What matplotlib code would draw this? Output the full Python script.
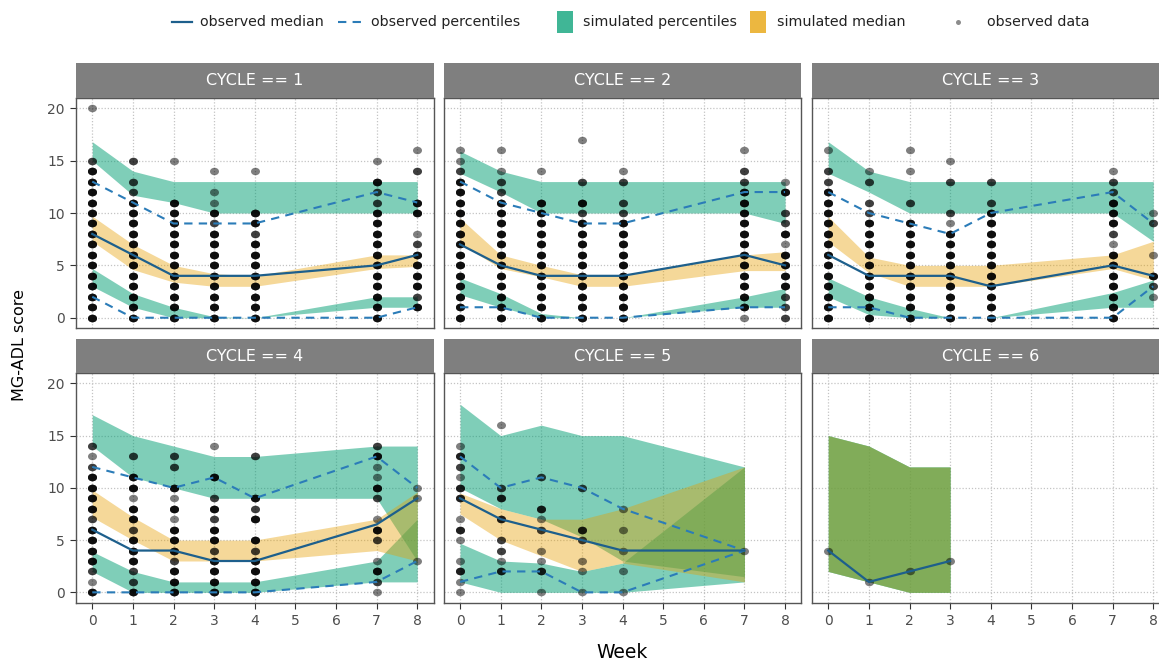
import numpy as np
import matplotlib
matplotlib.use("Agg")
import matplotlib.pyplot as plt
from matplotlib.patches import Rectangle
from matplotlib.lines import Line2D
from matplotlib.path import Path
import matplotlib.transforms as mtransforms

plt.rcParams['font.family'] = ['DejaVu Sans']

# ---------------------------------------------------------------- data
score_levels = [0, 1, 2, 3, 4, 5, 6, 7, 8, 9, 10, 11, 12, 13, 14, 15, 16, 17, 18, 19, 20]
week_ticks = [0, 1, 2, 3, 4, 5, 6, 7, 8]
score_ticks = [0, 5, 10, 15, 20]

weeks_c1 = [0, 1, 2, 3, 4, 7, 8]
weeks_c2 = [0, 1, 2, 3, 4, 7, 8]
weeks_c3 = [0, 1, 2, 3, 4, 7, 8]
weeks_c4 = [0, 1, 2, 3, 4, 7, 8]
weeks_c5 = [0, 1, 2, 3, 4, 7]
weeks_c6 = [0, 1, 2, 3]

# observed median and percentiles
obs_med_c1 = [8, 6, 4, 4, 4, 5, 6]
obs_hi_c1 = [13, 11, 9, 9, 9, 12, 11]
obs_lo_c1 = [2, 0, 0, 0, 0, 0, 1]
obs_med_c2 = [7, 5, 4, 4, 4, 6, 5]
obs_hi_c2 = [13, 11, 10, 9, 9, 12, 12]
obs_lo_c2 = [1, 1, 0, 0, 0, 1, 1]
obs_med_c3 = [6, 4, 4, 4, 3, 5, 4]
obs_hi_c3 = [12, 10, 9, 8, 10, 12, 9]
obs_lo_c3 = [1, 1, 0, 0, 0, 0, 3]
obs_med_c4 = [6, 4, 4, 3, 3, 6.5, 9]
obs_hi_c4 = [12, 11, 10, 11, 9, 13, 10]
obs_lo_c4 = [0, 0, 0, 0, 0, 1, 3]
obs_med_c5 = [9, 7, 6, 5, 4, 4]
obs_hi_c5 = [13, 10, 11, 10, 8, 4]
obs_lo_c5 = [1, 2, 2, 0, 0, 4]
obs_med_c6 = [4, 1, 2, 3]

# simulated intervals: (lower edge, upper edge) for the upper percentile,
# the median and the lower percentile
sim_up_c1 = ([15, 11.7, 11, 10, 10, 10, 10], [16.8, 14, 13, 13, 13, 13, 13])
sim_md_c1 = ([7.3, 4.6, 3.4, 3, 3, 4.7, 4.9], [9.7, 7, 5, 4.2, 4, 6, 6])
sim_lw_c1 = ([3, 1, 0, 0, 0, 1, 1], [4.7, 2.3, 1, 0.1, 0, 2, 2])

sim_up_c2 = ([13.8, 12, 10, 10, 10, 10, 9], [15.9, 14, 13, 13, 13, 13, 13])
sim_md_c2 = ([7.1, 4.7, 3.9, 3, 3, 4.5, 4.5], [9.5, 6, 5, 4.1, 4, 6, 6.3])
sim_lw_c2 = ([2.2, 1, 0, 0, 0, 1, 1], [3.8, 2.3, 0.4, 0, 0, 2, 2.8])

sim_up_c3 = ([13.8, 12, 10, 10, 10, 10, 7.3], [16.8, 14, 13, 13, 13, 13, 13])
sim_md_c3 = ([7.25, 4.3, 3, 3, 3, 4.7, 3.6], [9.65, 5.8, 5, 5, 5, 6, 7.3])
sim_lw_c3 = ([2, 0.3, 0, 0, 0, 1, 1], [3.8, 2, 0.9, 0, 0, 2.4, 3.6])

sim_up_c4 = ([14, 11, 10, 9, 9, 9, 3], [17, 15, 14, 13, 13, 14, 14])
sim_md_c4 = ([7.2, 5, 3, 3, 3, 4, 3], [9.8, 7.2, 5, 5, 5, 7, 9.6])
sim_lw_c4 = ([2, 0, 0, 0, 0, 1, 1], [3.9, 2, 1, 1, 1, 3, 7])

sim_up_c5 = ([10, 8, 7, 5.3, 3, 1.5], [18, 15, 16, 15, 15, 12])
sim_md_c5 = ([7.5, 5, 3.5, 2, 2.8, 1], [9.5, 8, 7, 7, 8, 12])
sim_lw_c5 = ([1, 0, 0, 0, 0, 1], [4.7, 3, 2.8, 2, 2.8, 12])

sim_up_c6 = ([2, 1, 0, 0], [15, 14, 12, 12])
sim_md_c6 = ([2, 1, 0, 0], [15, 14, 12, 12])
sim_lw_c6 = ([2, 1, 0, 0], [15, 14, 12, 12])

# observed data: number of patients at each score (index = score_levels)
#            score: 0  1  2  3  4  5  6  7  8  9 10 11 12 13 14 15 16 17 18 19 20
obs_counts_c1 = {
    0: [4, 4, 4, 4, 4, 4, 4, 4, 4, 4, 4, 4, 4, 4, 4, 2, 0, 0, 0, 0, 1],
    1: [4, 4, 4, 4, 4, 4, 4, 4, 4, 4, 4, 4, 2, 2, 0, 2, 0, 0, 0, 0, 0],
    2: [4, 4, 4, 4, 4, 4, 4, 4, 4, 4, 4, 4, 0, 0, 0, 1, 0, 0, 0, 0, 0],
    3: [4, 4, 4, 4, 4, 4, 4, 4, 4, 2, 4, 1, 1, 0, 1, 0, 0, 0, 0, 0, 0],
    4: [4, 4, 4, 4, 4, 4, 4, 4, 2, 4, 4, 0, 0, 0, 1, 0, 0, 0, 0, 0, 0],
    7: [4, 4, 4, 4, 4, 4, 4, 4, 4, 4, 4, 2, 2, 4, 0, 1, 0, 0, 0, 0, 0],
    8: [0, 4, 2, 4, 4, 4, 4, 2, 1, 0, 4, 4, 0, 0, 2, 0, 1, 0, 0, 0, 0],
}
obs_counts_c2 = {
    0: [4, 4, 4, 4, 4, 4, 4, 4, 4, 4, 4, 4, 4, 4, 2, 1, 1, 0, 0, 0, 0],
    1: [4, 4, 4, 4, 4, 4, 4, 4, 4, 4, 4, 4, 2, 2, 1, 0, 1, 0, 0, 0, 0],
    2: [4, 4, 4, 4, 4, 4, 4, 4, 4, 4, 4, 4, 0, 0, 1, 0, 0, 0, 0, 0, 0],
    3: [4, 4, 4, 4, 4, 4, 4, 4, 4, 4, 2, 4, 0, 2, 0, 0, 0, 1, 0, 0, 0],
    4: [4, 4, 4, 4, 4, 4, 4, 4, 4, 4, 2, 2, 0, 2, 1, 0, 0, 0, 0, 0, 0],
    7: [1, 4, 4, 4, 4, 4, 4, 4, 4, 4, 4, 4, 4, 2, 2, 0, 1, 0, 0, 0, 0],
    8: [2, 2, 2, 4, 4, 4, 4, 1, 4, 2, 2, 0, 4, 1, 0, 0, 0, 0, 0, 0, 0],
}
obs_counts_c3 = {
    0: [4, 4, 4, 4, 4, 4, 4, 4, 4, 4, 4, 4, 4, 2, 2, 0, 1, 0, 0, 0, 0],
    1: [4, 4, 4, 4, 4, 4, 4, 4, 4, 4, 2, 2, 0, 2, 1, 0, 0, 0, 0, 0, 0],
    2: [4, 4, 4, 4, 4, 4, 4, 4, 4, 4, 0, 2, 0, 0, 1, 0, 1, 0, 0, 0, 0],
    3: [4, 4, 4, 4, 4, 4, 4, 4, 4, 1, 2, 0, 0, 2, 0, 1, 0, 0, 0, 0, 0],
    4: [4, 4, 4, 4, 4, 4, 4, 4, 4, 4, 4, 2, 0, 2, 0, 0, 0, 0, 0, 0, 0],
    7: [4, 4, 4, 4, 4, 4, 4, 1, 2, 4, 4, 4, 2, 2, 1, 0, 0, 0, 0, 0, 0],
    8: [0, 0, 1, 2, 4, 0, 1, 0, 0, 2, 1, 0, 0, 0, 0, 0, 0, 0, 0, 0, 0],
}
obs_counts_c4 = {
    0: [4, 1, 2, 4, 4, 4, 4, 2, 4, 4, 4, 4, 2, 1, 2, 0, 0, 0, 0, 0, 0],
    1: [4, 2, 2, 4, 4, 4, 2, 4, 4, 1, 4, 4, 0, 2, 0, 0, 0, 0, 0, 0, 0],
    2: [4, 4, 4, 2, 4, 4, 4, 1, 4, 1, 4, 0, 2, 2, 0, 0, 0, 0, 0, 0, 0],
    3: [4, 4, 4, 4, 2, 4, 4, 2, 4, 2, 0, 4, 0, 0, 1, 0, 0, 0, 0, 0, 0],
    4: [4, 4, 4, 4, 2, 4, 0, 4, 2, 4, 0, 0, 0, 2, 0, 0, 0, 0, 0, 0, 0],
    7: [1, 2, 4, 1, 0, 2, 4, 1, 0, 2, 4, 1, 1, 4, 2, 0, 0, 0, 0, 0, 0],
    8: [0, 0, 0, 1, 0, 0, 0, 0, 0, 1, 1, 0, 0, 0, 0, 0, 0, 0, 0, 0, 0],
}
obs_counts_c5 = {
    0: [1, 1, 3, 1, 0, 1, 3, 1, 0, 3, 3, 1, 2, 3, 1, 0, 0, 0, 0, 0, 0],
    1: [0, 0, 3, 1, 2, 2, 0, 3, 0, 3, 2, 0, 0, 0, 0, 0, 1, 0, 0, 0, 0],
    2: [1, 0, 3, 1, 1, 0, 2, 1, 3, 0, 0, 2, 0, 0, 0, 0, 0, 0, 0, 0, 0],
    3: [1, 0, 1, 1, 0, 2, 3, 0, 0, 0, 2, 0, 0, 0, 0, 0, 0, 0, 0, 0, 0],
    4: [1, 0, 1, 0, 1, 0, 1, 0, 1, 0, 0, 0, 0, 0, 0, 0, 0, 0, 0, 0, 0],
    7: [0, 0, 0, 0, 1, 0, 0, 0, 0, 0, 0, 0, 0, 0, 0, 0, 0, 0, 0, 0, 0],
}
obs_counts_c6 = {
    0: [0, 0, 0, 0, 1, 0, 0, 0, 0, 0, 0, 0, 0, 0, 0, 0, 0, 0, 0, 0, 0],
    1: [0, 1, 0, 0, 0, 0, 0, 0, 0, 0, 0, 0, 0, 0, 0, 0, 0, 0, 0, 0, 0],
    2: [0, 0, 1, 0, 0, 0, 0, 0, 0, 0, 0, 0, 0, 0, 0, 0, 0, 0, 0, 0, 0],
    3: [0, 0, 0, 1, 0, 0, 0, 0, 0, 0, 0, 0, 0, 0, 0, 0, 0, 0, 0, 0, 0],
}

cycles = [
    dict(n=1, weeks=weeks_c1, med=obs_med_c1, hi=obs_hi_c1, lo=obs_lo_c1,
         up=sim_up_c1, md=sim_md_c1, lw=sim_lw_c1, pts=obs_counts_c1),
    dict(n=2, weeks=weeks_c2, med=obs_med_c2, hi=obs_hi_c2, lo=obs_lo_c2,
         up=sim_up_c2, md=sim_md_c2, lw=sim_lw_c2, pts=obs_counts_c2),
    dict(n=3, weeks=weeks_c3, med=obs_med_c3, hi=obs_hi_c3, lo=obs_lo_c3,
         up=sim_up_c3, md=sim_md_c3, lw=sim_lw_c3, pts=obs_counts_c3),
    dict(n=4, weeks=weeks_c4, med=obs_med_c4, hi=obs_hi_c4, lo=obs_lo_c4,
         up=sim_up_c4, md=sim_md_c4, lw=sim_lw_c4, pts=obs_counts_c4),
    dict(n=5, weeks=weeks_c5, med=obs_med_c5, hi=obs_hi_c5, lo=obs_lo_c5,
         up=sim_up_c5, md=sim_md_c5, lw=sim_lw_c5, pts=obs_counts_c5),
    dict(n=6, weeks=weeks_c6, med=obs_med_c6, hi=None, lo=None,
         up=sim_up_c6, md=sim_md_c6, lw=sim_lw_c6, pts=obs_counts_c6),
]

# ---------------------------------------------------------------- style
TEAL = '#009E73'
ORANGE = '#E69F00'
MED_COL = '#1d5f8c'
PCT_COL = '#2b7cb8'
TEAL_ALPHA = 0.5
ORANGE_ALPHA = 0.4
PT_ALPHA = 0.5
STRIP_COL = '#7f7f7f'
FRAME_COL = '#555555'
GRID_COL = '#c4c4c4'
TICK_TXT = '#4d4d4d'

# slightly wide dot marker
DOT = Path.unit_circle().transformed(mtransforms.Affine2D().scale(1.2, 1.0))

W, H = 1159, 662
fig = plt.figure(figsize=(W / 100, H / 100), dpi=100)
fig.patch.set_facecolor('white')


def fx(px):
    return px / W


def fy(py):
    return 1 - py / H


col_left = [76.0, 443.8, 812.0]
col_width = 357.5
row_panel = [(97.8, 328.2), (372.9, 602.8)]
row_strip = [(63.0, 97.8), (339.3, 372.9)]

for i, cyc in enumerate(cycles):
    r, c = divmod(i, 3)
    left = col_left[c]
    top, bottom = row_panel[r]
    ax = fig.add_axes([fx(left), fy(bottom), col_width / W, (bottom - top) / H])
    ax.set_xlim(-0.4, 8.4)
    ax.set_ylim(-1, 21)
    ax.set_facecolor('white')

    # grid
    ax.set_xticks(week_ticks)
    ax.set_yticks(score_ticks)
    ax.grid(True, color=GRID_COL, linestyle=(0, (1, 1.5)), linewidth=0.9)
    ax.set_axisbelow(True)

    wk = cyc['weeks']
    # simulated ribbons: percentiles first, median on top
    ax.fill_between(wk, cyc['lw'][0], cyc['lw'][1], color=TEAL, alpha=TEAL_ALPHA,
                    linewidth=0, zorder=2)
    ax.fill_between(wk, cyc['up'][0], cyc['up'][1], color=TEAL, alpha=TEAL_ALPHA,
                    linewidth=0, zorder=2)
    ax.fill_between(wk, cyc['md'][0], cyc['md'][1], color=ORANGE, alpha=ORANGE_ALPHA,
                    linewidth=0, zorder=2)

    # observed data points (one marker per patient)
    xs, ys = [], []
    for w, counts in cyc['pts'].items():
        for s, n in zip(score_levels, counts):
            xs.extend([w] * n)
            ys.extend([s] * n)
    ax.scatter(xs, ys, s=42, marker=DOT, color='black', alpha=PT_ALPHA,
               linewidths=0, zorder=3)

    # observed summary lines
    if cyc['hi'] is not None:
        ax.plot(wk, cyc['hi'], color=PCT_COL, lw=1.5, dashes=(4, 3), zorder=4)
        ax.plot(wk, cyc['lo'], color=PCT_COL, lw=1.5, dashes=(4, 3), zorder=4)
    ax.plot(wk, cyc['med'], color=MED_COL, lw=1.6, zorder=5)

    for sp in ax.spines.values():
        sp.set_color(FRAME_COL)
        sp.set_linewidth(1.0)

    ax.tick_params(axis='both', colors='#333333', length=4, width=0.8,
                   labelcolor=TICK_TXT, labelsize=10, pad=4)
    if c != 0:
        ax.tick_params(axis='y', length=0, labelleft=False)
    if r == 0:
        ax.tick_params(axis='x', length=0, labelbottom=False)

    # strip
    stop, sbot = row_strip[r]
    sax = fig.add_axes([fx(left), fy(sbot), col_width / W, (sbot - stop) / H])
    sax.set_facecolor(STRIP_COL)
    sax.set_xticks([])
    sax.set_yticks([])
    for sp in sax.spines.values():
        sp.set_visible(False)
    sax.text(0.5, 0.5, f"CYCLE == {cyc['n']}", transform=sax.transAxes,
             ha='center', va='center', color='white', fontsize=11.5)

# axis titles
fig.text(fx(622), fy(653), 'Week', ha='center', va='center', fontsize=13.5, color='black')
fig.text(fx(20), fy(345), 'MG-ADL score', ha='center', va='center', rotation=90,
         fontsize=11.5, color='black')

# legend
LEG_Y = 22
LEG_FS = 10.3
fig.add_artist(Line2D([fx(172), fx(192)], [fy(LEG_Y), fy(LEG_Y)], color=MED_COL, lw=1.6))
fig.text(fx(200), fy(LEG_Y), 'observed median', va='center', ha='left', fontsize=LEG_FS,
         color='#222222')
fig.add_artist(Line2D([fx(338), fx(362)], [fy(LEG_Y), fy(LEG_Y)], color=PCT_COL, lw=1.5,
                      dashes=(4, 3)))
fig.text(fx(371), fy(LEG_Y), 'observed percentiles', va='center', ha='left', fontsize=LEG_FS,
         color='#222222')
fig.add_artist(Rectangle((fx(557), fy(33)), (573 - 557) / W, 22 / H, transform=fig.transFigure,
                         facecolor=TEAL, alpha=0.75, linewidth=0))
fig.text(fx(583), fy(LEG_Y), 'simulated percentiles', va='center', ha='left', fontsize=LEG_FS,
         color='#222222')
fig.add_artist(Rectangle((fx(750), fy(33)), (766 - 750) / W, 22 / H, transform=fig.transFigure,
                         facecolor=ORANGE, alpha=0.75, linewidth=0))
fig.text(fx(777), fy(LEG_Y), 'simulated median', va='center', ha='left', fontsize=LEG_FS,
         color='#222222')
fig.add_artist(Line2D([fx(958)], [fy(LEG_Y)], marker='o', markersize=3.6, color='black',
                      alpha=0.45, linestyle='none', markeredgewidth=0))
fig.text(fx(987), fy(LEG_Y), 'observed data', va='center', ha='left', fontsize=LEG_FS,
         color='#222222')

fig.savefig('out.png', dpi=100, facecolor='white')
